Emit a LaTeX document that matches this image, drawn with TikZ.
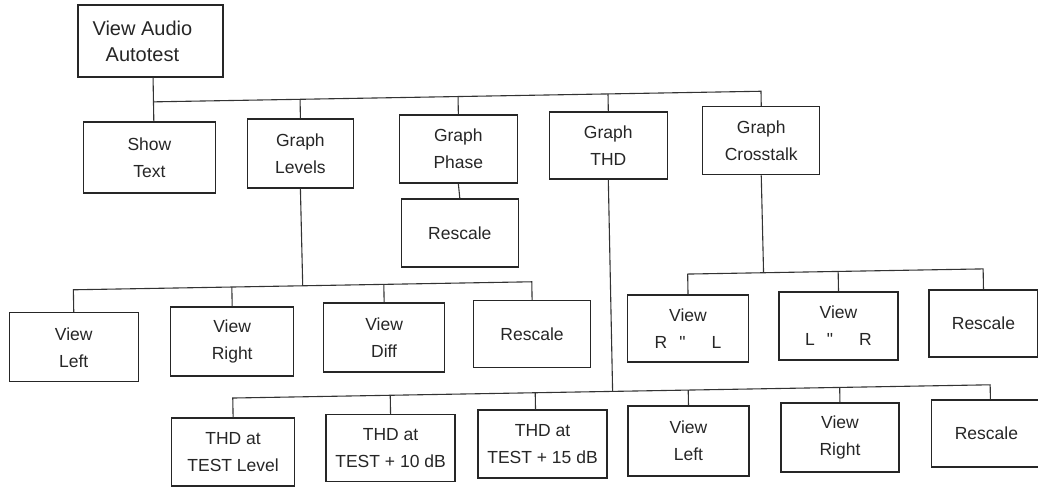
\documentclass[tikz,border=0pt]{standalone}
\usepackage{fontspec}
\setmainfont{Liberation Sans}
\begin{document}
\begin{tikzpicture}[x=1pt,y=-1pt,
  box/.style={draw=black!85, line width=1.4pt, align=center, inner sep=0pt,
    font=\fontsize{17.5}{27}\selectfont, text=black!85},
  bx/.style n args={2}{box, minimum width=#1pt, minimum height=#2pt},
  txt/.style={align=center, inner sep=0pt, font=\fontsize{20}{26}\selectfont, text=black!85},
  wire/.style={draw=black!80, line width=1.1pt}]
\useasboundingbox (0,0) rectangle (1038,487);
\begin{scope}[rotate around={1:(519,243)}]
% level 0
\node[bx={145}{72}] (root) at (154,34.5) {};
\node[txt] (roottxt) at (146,34.5) {View Audio\\Autotest};
% level 1
\node[bx={132}{71}] (show) at (151,151) {Show\\Text};
\node[bx={106}{69}] (levels) at (302,149.5) {Graph\\Levels};
\node[bx={118}{68}] (phase) at (460,148) {Graph\\Phase};
\node[bx={117}{68}] (phrs) at (460,232) {Rescale};
\node[bx={118}{67}] (thd) at (610,147) {Graph\\THD};
\node[bx={117}{68}] (cross) at (763,145) {Graph\\Crosstalk};
% levels children
\node[bx={129}{69}] (vl) at (72,339.5) {View\\Left};
\node[bx={123}{69}] (vr) at (230.5,336.5) {View\\Right};
\node[bx={121}{69}] (vd) at (382.5,335) {View\\Diff};
\node[bx={117}{67}] (rs1) at (530.5,334.5) {Rescale};
% crosstalk children
\node[bx={121}{67}] (rl) at (686.5,331.5) {View\\R\hspace{12pt}\textquotedbl\hspace{26pt}L};
\node[bx={119}{68}] (lr) at (837,331.5) {View\\L\hspace{12pt}\textquotedbl\hspace{26pt}R};
\node[bx={109}{67}] (rs2) at (982,331.5) {Rescale};
% THD children
\node[bx={123}{68}] (t0) at (229.5,447) {THD at\\TEST Level};
\node[bx={129}{67}] (t10) at (387,446) {THD at\\TEST + 10 dB};
\node[bx={129}{68}] (t15) at (539,444.5) {THD at\\TEST + 15 dB};
\node[bx={121}{70}] (vl2) at (685,444) {View\\Left};
\node[bx={118}{69}] (vr2) at (836.5,443) {View\\Right};
\node[bx={110}{67}] (rs3) at (983,441.5) {Rescale};
% buses
\coordinate (b0) at (156,95.5);
\coordinate (b1) at (302,282);
\coordinate (b2) at (763,277);
\coordinate (b3) at (610,393);
\coordinate (t15s) at ([xshift=-7pt]t15.north);
\coordinate (rs3s) at ([xshift=4pt]rs3.north);
% level 0 -> level 1
\draw[wire] (root.south -| b0) -- (show.north -| b0);
\draw[wire] (b0) -| (cross.north);
\draw[wire] (b0 -| levels.north) -- (levels.north);
\draw[wire] (b0 -| phase.north) -- (phase.north);
\draw[wire] (b0 -| thd.north) -- (thd.north);
\draw[wire] (phase.south) -- (phrs.north);
% levels
\draw[wire] (levels.south) -- (b1);
\draw[wire] (vl.north) |- (b1) -| (rs1.north);
\draw[wire] (b1 -| vr.north) -- (vr.north);
\draw[wire] (b1 -| vd.north) -- (vd.north);
% crosstalk
\draw[wire] (cross.south) -- (b2);
\draw[wire] (rl.north) |- (b2) -| (rs2.north);
\draw[wire] (b2 -| lr.north) -- (lr.north);
% THD
\draw[wire] (thd.south) -- (b3);
\draw[wire] (t0.north) |- (b3) -| (rs3s);
\draw[wire] (b3 -| t10.north) -- (t10.north);
\draw[wire] (b3 -| t15s) -- (t15s);
\draw[wire] (b3 -| vl2.north) -- (vl2.north);
\draw[wire] (b3 -| vr2.north) -- (vr2.north);
\end{scope}
\end{tikzpicture}
\end{document}
